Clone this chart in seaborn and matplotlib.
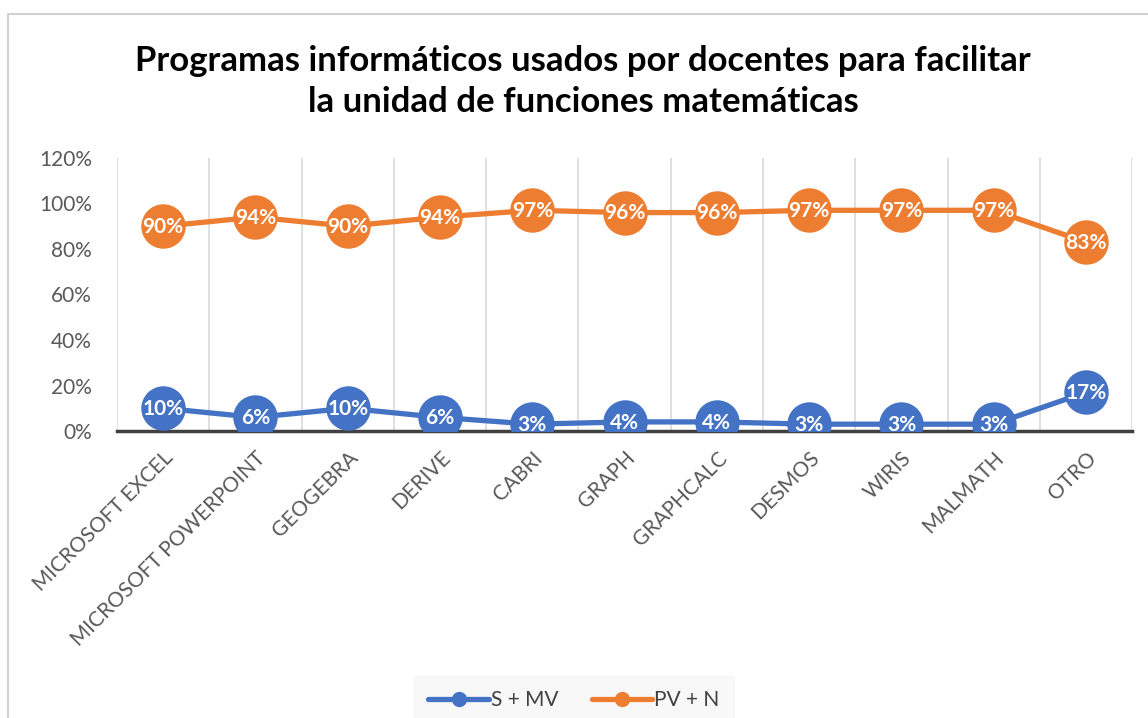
import numpy as np
import pandas as pd
import matplotlib.pyplot as plt
import seaborn as sns
from matplotlib.patches import Rectangle

programas = ["MICROSOFT EXCEL", "MICROSOFT POWERPOINT", "GEOGEBRA", "DERIVE", "CABRI",
             "GRAPH", "GRAPHCALC", "DESMOS", "WIRIS", "MALMATH", "OTRO"]
s_mv = [0.10, 0.06, 0.10, 0.06, 0.03, 0.04, 0.04, 0.03, 0.03, 0.03, 0.17]
pv_n = [0.90, 0.94, 0.90, 0.94, 0.97, 0.96, 0.96, 0.97, 0.97, 0.97, 0.83]
series = ["S + MV", "PV + N"]
colores = ["#4472C4", "#ED7D31"]


def generate_chart():
    df = pd.DataFrame({
        "pos": list(range(len(programas))) * 2,
        "valor": s_mv + pv_n,
        "serie": [series[0]] * len(programas) + [series[1]] * len(programas),
    })

    sns.set_style("white")
    plt.rcParams["font.family"] = ["Lato", "DejaVu Sans"]

    fig = plt.figure(figsize=(11.48, 7.18), dpi=100)
    ax = fig.add_axes([0.1019, 0.3997, 0.8843, 0.3803])

    sns.lineplot(data=df, x="pos", y="valor", hue="serie", palette=colores,
                 marker="o", markersize=32, markeredgewidth=0, linewidth=3.8,
                 ax=ax, legend=True)

    # data labels
    for vals in (s_mv, pv_n):
        for i, v in enumerate(vals):
            ax.text(i, v - 0.003, f"{v * 100:.0f}%", ha="center", va="center",
                    color="white", fontsize=15, fontweight="bold", zorder=5)

    ax.set_xlim(-0.5, len(programas) - 0.5)
    ax.set_ylim(0, 1.2)
    ax.set_yticks(np.arange(0, 1.21, 0.2))
    ax.set_yticklabels([f"{t * 100:.0f}%" for t in np.arange(0, 1.21, 0.2)],
                       fontsize=15, color="#595959")
    ax.set_xticks(range(len(programas)))
    ax.set_xticklabels(programas, rotation=45, ha="right", rotation_mode="anchor",
                       fontsize=15, color="#595959")
    ax.tick_params(axis="x", length=0, pad=12)
    ax.tick_params(axis="y", length=0, pad=18)
    ax.set_xticks(np.arange(-0.5, len(programas), 1), minor=True)
    ax.grid(False)
    ax.grid(axis="x", which="minor", color="#d9d9d9", linewidth=1.2)
    ax.set_xlabel("")
    ax.set_ylabel("")
    for side in ("top", "right", "left"):
        ax.spines[side].set_visible(False)
    ax.spines["bottom"].set_color("#404040")
    ax.spines["bottom"].set_linewidth(2.5)
    ax.spines["bottom"].set_zorder(1)

    fig.suptitle("Programas informáticos usados por docentes para facilitar\n"
                 "la unidad de funciones matemáticas",
                 x=0.508, y=0.938, fontsize=25, fontweight="bold", color="black",
                 linespacing=1.38)

    handles, labels = ax.get_legend_handles_labels()
    for h in handles:
        h.set_markersize(11)
        h.set_linewidth(3.8)
    leg = ax.legend(handles, labels, loc="center", bbox_to_anchor=(0.5, 0.0245),
                    bbox_transform=fig.transFigure, ncol=2, frameon=True,
                    fontsize=15, handlelength=2.9, columnspacing=1.6,
                    handletextpad=0.1, borderpad=0.7)
    leg.get_frame().set_facecolor("#f7f7f7")
    leg.get_frame().set_edgecolor("#f7f7f7")
    leg.get_frame().set_boxstyle("square", pad=0)
    for t in leg.get_texts():
        t.set_color("#404040")

    fig.patches.append(Rectangle((0.007, -0.01), 1.0, 0.99, transform=fig.transFigure,
                                 fill=False, edgecolor="#d0d0d0", linewidth=1.5))

    fig.savefig("out.png", dpi=100)


if __name__ == "__main__":
    generate_chart()
